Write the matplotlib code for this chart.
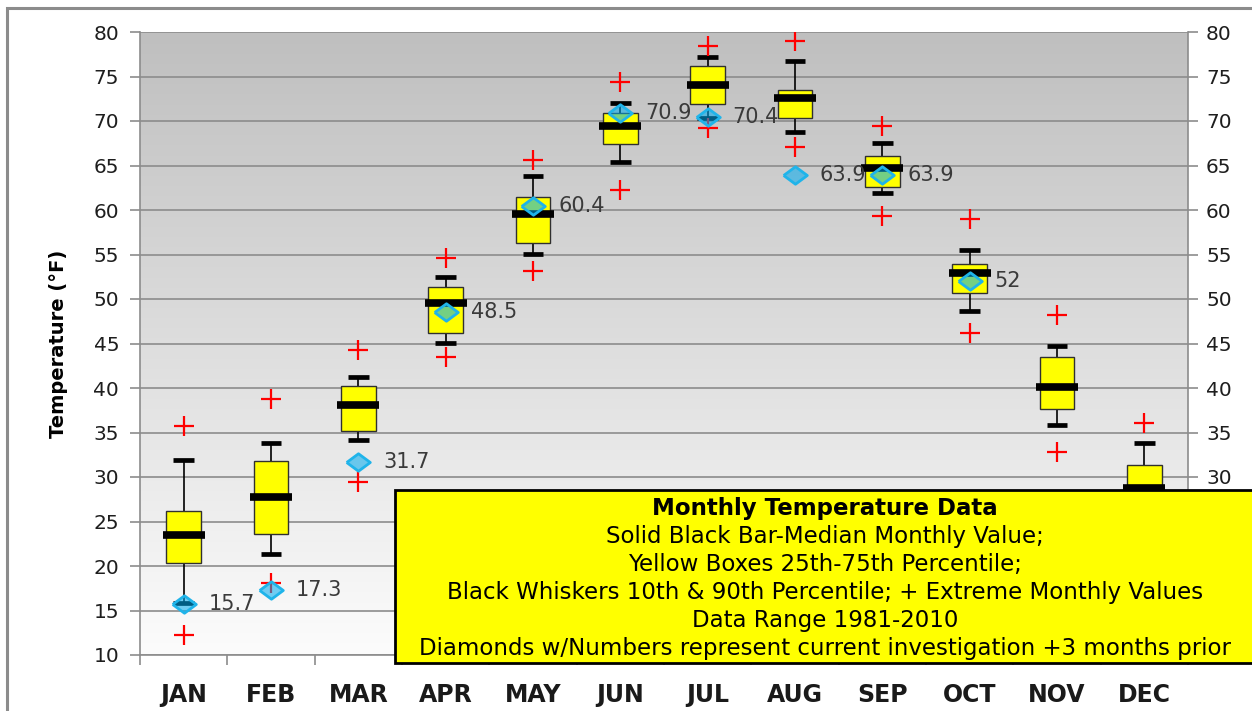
import matplotlib
matplotlib.use('Agg')
import matplotlib.pyplot as plt
from matplotlib.patches import Rectangle
import numpy as np

months = ['JAN', 'FEB', 'MAR', 'APR', 'MAY', 'JUN', 'JUL', 'AUG', 'SEP', 'OCT', 'NOV', 'DEC']
# extremes, 10th/90th percentiles, quartiles and medians (deg F, 1981-2010)
t_min = [12.2, 18.1, 29.4, 43.5, 53.1, 62.2, 69.2, 67.1, 59.3, 46.2, 32.8, 17.0]
p10   = [15.8, 21.3, 34.2, 45.1, 55.1, 65.4, 70.3, 68.8, 61.9, 48.7, 35.8, 22.0]
q25   = [20.3, 23.6, 35.2, 46.2, 56.3, 67.4, 71.9, 70.3, 62.6, 50.7, 37.6, 26.0]
med   = [23.5, 27.8, 38.1, 49.6, 59.6, 69.4, 74.0, 72.6, 64.7, 52.9, 40.1, 28.8]
q75   = [26.2, 31.8, 40.2, 51.3, 61.5, 70.9, 76.2, 73.5, 66.1, 53.9, 43.5, 31.3]
p90   = [31.9, 33.8, 41.2, 52.5, 63.8, 72.0, 77.2, 76.7, 67.5, 55.5, 44.7, 33.8]
t_max = [35.7, 38.8, 44.3, 54.6, 65.6, 74.4, 78.4, 79.0, 69.4, 59.0, 48.2, 36.1]
# current investigation values (diamonds)
current = [15.7, 17.3, 31.7, 48.5, 60.4, 70.9, 70.4, 63.9, 63.9, 52, None, None]

yticks = list(range(10, 81, 5))
# right-axis labels hidden behind the explanation box in the original
right_labels = ['', '', '', ''] + [str(v) for v in range(30, 81, 5)]

box_lines = ['Monthly Temperature Data',
             'Solid Black Bar-Median Monthly Value;',
             'Yellow Boxes 25th-75th Percentile;',
             'Black Whiskers 10th & 90th Percentile; + Extreme Monthly Values',
             'Data Range 1981-2010',
             'Diamonds w/Numbers represent current investigation +3 months prior']

W, H = 1252, 711
fig = plt.figure(figsize=(W / 100, H / 100), dpi=100)
fig.patch.set_facecolor('white')
ax = fig.add_axes([140 / W, 1 - 655 / H, (1188 - 140) / W, (655 - 32) / H])

x = np.arange(len(months))
ax.set_xlim(-0.5, 11.5)
ax.set_ylim(10, 80)

# gray-to-white gradient background
grad = np.linspace(0, 1, 256).reshape(-1, 1)
ax.imshow(grad, extent=(-0.5, 11.5, 10, 80), origin='upper', aspect='auto',
          cmap=matplotlib.colors.LinearSegmentedColormap.from_list('bg', ['#bfbfbf', '#fcfcfc']),
          zorder=0)

grid_c = '#8c8c8c'
for v in yticks:
    ax.axhline(v, color=grid_c, lw=1.2, zorder=1)

# whiskers
ax.vlines(x, q75, p90, color='black', lw=1.2, zorder=2)
ax.vlines(x, p10, q25, color='black', lw=1.2, zorder=2)
ax.hlines(p90, x - 0.12, x + 0.12, color='black', lw=3.4, zorder=3)
ax.hlines(p10, x - 0.12, x + 0.12, color='black', lw=3.4, zorder=3)
# boxes
ax.bar(x, np.array(q75) - np.array(q25), bottom=q25, width=0.4,
       color='#ffff00', edgecolor='#303030', lw=1.0, zorder=3)
# medians
ax.hlines(med, x - 0.24, x + 0.24, color='black', lw=5.5, zorder=4)
# extremes
ax.plot(x, t_min, '+', color='red', ms=15, mew=1.6, zorder=4, ls='none')
ax.plot(x, t_max, '+', color='red', ms=15, mew=1.6, zorder=4, ls='none')

# diamonds with labels (slightly wide diamond like the original)
diamond = [(-1.35, 0), (0, 1), (1.35, 0), (0, -1), (-1.35, 0)]
for i, v in enumerate(current):
    if v is None:
        continue
    ax.plot(i, v, marker=diamond, ms=17, mfc=(0.0, 0.67, 0.94, 0.55), mec='#1fb4ea', mew=2, zorder=5)
    ax.annotate(f'{v:g}', (i, v), xytext=(18, 0), textcoords='offset points',
                va='center', ha='left', fontsize=15, color='#3a3a3a', zorder=6)

# axes styling
ax.set_yticks(yticks)
ax.tick_params(axis='y', which='both', direction='out', length=7, width=1.2,
               color=grid_c, labelsize=14.5, labelcolor='#1e1e1e', pad=8)
ax.set_xticks(x)
ax.set_xticklabels(months, fontsize=17, fontweight='bold', color='#1a1a1a')
ax.set_xticks(np.arange(-0.5, 12, 1), minor=True)
ax.tick_params(axis='x', which='major', length=0, pad=20)
ax.tick_params(axis='x', which='minor', direction='out', length=7, width=1.2, color=grid_c)
for s in ax.spines.values():
    s.set_color(grid_c)
    s.set_linewidth(1.2)
ax.spines['top'].set_visible(False)

ax.set_ylabel('Temperature (°F)', fontsize=14, fontweight='bold', labelpad=18)

ax2 = ax.twinx()
ax2.set_ylim(10, 80)
ax2.set_yticks(yticks)
ax2.set_yticklabels(right_labels)
ax2.tick_params(axis='y', direction='out', length=7, width=1.2, color=grid_c,
                labelsize=14.5, labelcolor='#1e1e1e', pad=6)
for s in ax2.spines.values():
    s.set_visible(False)

# outer chart border
fig.add_artist(Rectangle((7 / W, -0.1), 2, 1 - 8 / H + 0.1, transform=fig.transFigure,
                         fill=False, edgecolor='#8c8c8c', lw=2.2, zorder=1))

# explanation box
fig.add_artist(Rectangle((395 / W, 1 - 663 / H), 2, (663 - 490) / H, transform=fig.transFigure,
                         facecolor='#ffff00', edgecolor='black', lw=2, zorder=10))
line_y = [508, 536, 564, 592, 620, 648]
for k, (txt, py) in enumerate(zip(box_lines, line_y)):
    fig.text(825 / W, 1 - py / H, txt, ha='center', va='center', fontsize=16.5,
             fontweight='bold' if k == 0 else 'normal', color='black', zorder=11)

fig.savefig('out.png', dpi=100)
